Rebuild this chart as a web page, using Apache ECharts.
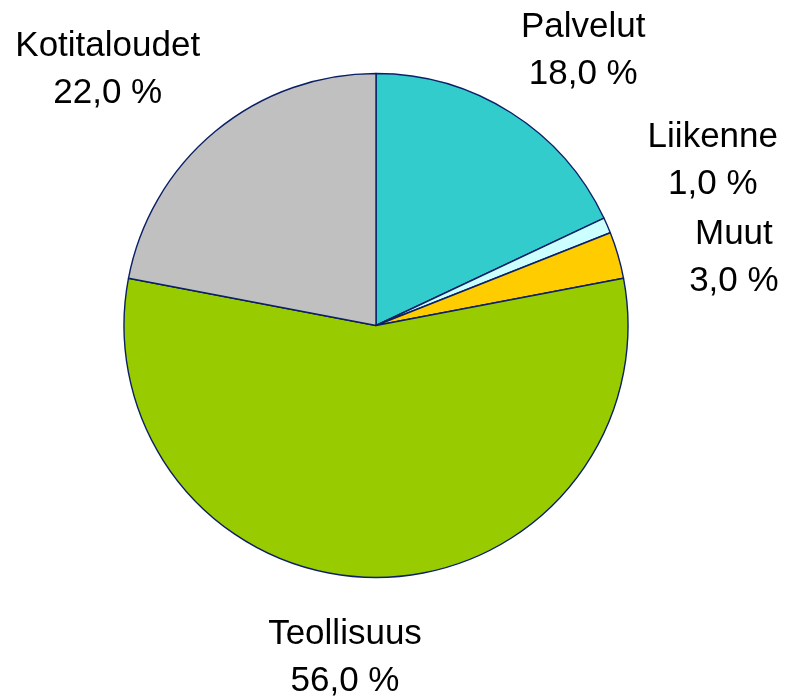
<!DOCTYPE html>
<html>
<head>
<meta charset="utf-8">
<script src="https://cdn.jsdelivr.net/npm/echarts@6/dist/echarts.min.js"></script>
<style>
  html, body { margin: 0; padding: 0; background: #ffffff; }
  #chart { width: 787px; height: 698px; }
</style>
</head>
<body>
<div id="chart"></div>
<script>
// data (percent shares, clockwise from 12 o'clock)
const categories = ['Palvelut', 'Liikenne', 'Muut', 'Teollisuus', 'Kotitaloudet'];
const shares = [18, 1, 3, 56, 22];
const sliceColors = ['#33CCCC', '#CCFFFF', '#FFCC00', '#99CC00', '#C0C0C0'];

// pie geometry
const CX = 376;
const CY = 325.5;
const RADIUS = 252;
// labels sit around this distance from the centre, then get nudged like in the original
const LABEL_DIST = 355;
const labelNudge = [[17, 25], [11, -24], [17, 31], [-31, -23], [-42, 18]];

const total = shares.reduce((a, b) => a + b, 0);

function midAngle(index) {
  let before = 0;
  for (let i = 0; i < index; i++) {
    before += shares[i];
  }
  return (before + shares[index] / 2) / total * Math.PI * 2;
}

function formatShare(value) {
  return value.toFixed(1).replace('.', ',') + ' %';
}

const chart = echarts.init(document.getElementById('chart'), null, { renderer: 'canvas' });

chart.setOption({
  animation: false,
  backgroundColor: '#ffffff',
  series: [
    {
      type: 'pie',
      center: [CX, CY],
      radius: RADIUS,
      startAngle: 90,
      clockwise: true,
      avoidLabelOverlap: false,
      silent: true,
      itemStyle: {
        borderColor: '#0a1f66',
        borderWidth: 1.4
      },
      label: {
        show: true,
        position: 'outside',
        formatter: (p) => '{t|' + p.name + '}\n{t|' + formatShare(p.value) + '}',
        rich: {
          t: {
            fontFamily: 'Liberation Sans, Arial, sans-serif',
            fontSize: 35,
            lineHeight: 47,
            color: '#000000',
            align: 'center'
          }
        }
      },
      labelLine: { show: false },
      labelLayout: (params) => {
        const a = midAngle(params.dataIndex);
        const nudge = labelNudge[params.dataIndex];
        return {
          x: CX + Math.sin(a) * LABEL_DIST + nudge[0],
          y: CY - Math.cos(a) * LABEL_DIST + nudge[1],
          align: 'center',
          verticalAlign: 'middle'
        };
      },
      data: categories.map((name, i) => ({
        name,
        value: shares[i],
        itemStyle: { color: sliceColors[i] }
      }))
    }
  ]
});
</script>
</body>
</html>
